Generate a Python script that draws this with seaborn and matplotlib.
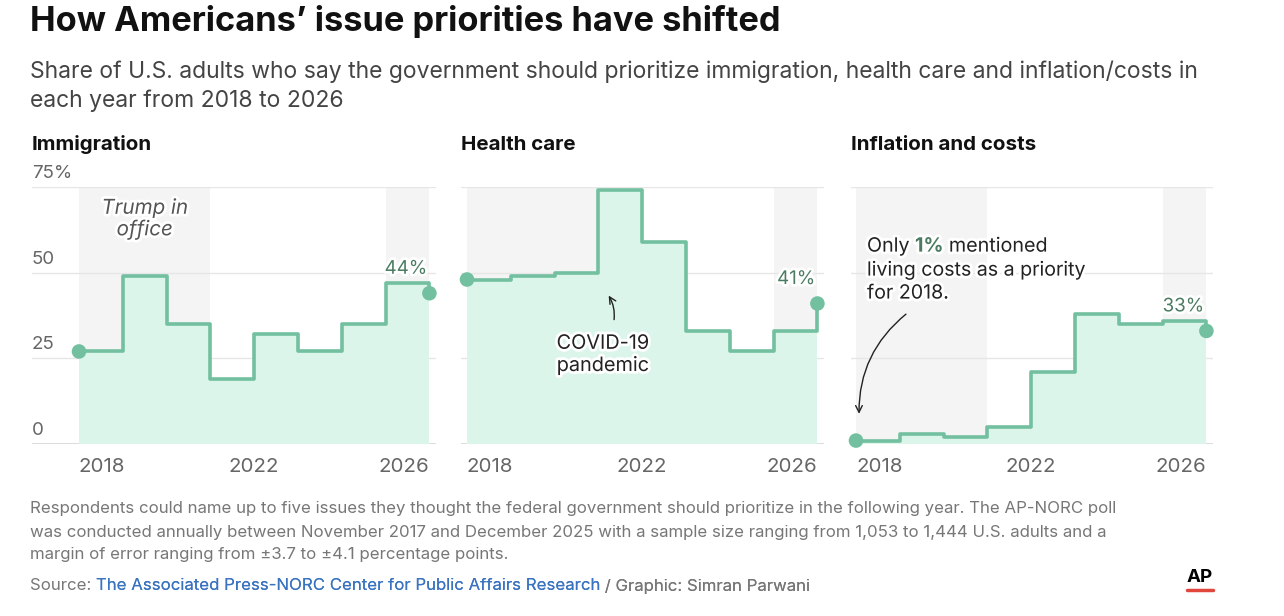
import numpy as np
import pandas as pd
import matplotlib
matplotlib.use("Agg")
import matplotlib.pyplot as plt
import matplotlib.patheffects as pe
import matplotlib.transforms as mtransforms
import seaborn as sns

# data (priority year, % of U.S. adults)
years = [2018, 2019, 2020, 2021, 2022, 2023, 2024, 2025, 2026]
immigration = [27, 49, 35, 19, 32, 27, 35, 47, 44]
health_care = [48, 49, 50, 74, 59, 33, 27, 33, 41]
inflation = [1, 3, 2, 5, 21, 38, 35, 36, 33]
issues = ["Immigration", "Health care", "Inflation and costs"]
trump_terms = [(2018, 2021), (2025, 2026)]
y_ticks = [0, 25, 50, 75]
y_tick_labels = ["0", "25", "50", "75%"]
x_ticks = [2018, 2022, 2026]

df = pd.DataFrame({
    "year": years * 3,
    "share": immigration + health_care + inflation,
    "issue": [i for i in issues for _ in years],
})

sns.set_theme(style="white")
plt.rcParams["font.family"] = ["Inter", "Roboto", "DejaVu Sans"]

LINE = "#72c0a0"
FILL = "#dcf5ea"
SHADE = "#f4f4f4"
GRID = "#e6e6e6"
DARKGREEN = "#4b7b61"
halo = [pe.withStroke(linewidth=4, foreground="white")]

W, H = 1284, 616
fig = plt.figure(figsize=(W / 100, H / 100), dpi=100)
fig.patch.set_facecolor("white")

ppy = 43.8
top_px, base_px = 187, 444
panel_px = [(32, 79), (461, 467), (851, 856)]

axes = []
for k, issue in enumerate(issues):
    left, start = panel_px[k]
    right = start + 8 * ppy + 7
    ax = fig.add_axes([left / W, (H - base_px) / H, (right - left) / W, (base_px - top_px) / H])
    ax.set_xlim(2018 - (start - left) / ppy, 2026 + 7 / ppy)
    ax.set_ylim(0, 75)
    for s in ax.spines.values():
        s.set_visible(False)
    ax.set_facecolor("white")

    sub = df[df["issue"] == issue]
    for a, b in trump_terms:
        ax.axvspan(a, b, ymin=0, ymax=1, color=SHADE, lw=0, zorder=0)
    ax.set_yticks(y_ticks)
    ax.yaxis.grid(True, color=GRID, lw=1)
    ax.set_axisbelow(True)
    ax.tick_params(axis="y", length=0, labelleft=False)
    ax.axhline(0, color="#d9d9d9", lw=1.3, zorder=0.6)

    ax.fill_between(sub["year"], sub["share"], step="post", color=FILL, lw=0, zorder=1)
    sns.lineplot(data=sub, x="year", y="share", drawstyle="steps-post", color=LINE,
                 lw=2.6, ax=ax, zorder=3)
    ends = sub.iloc[[0, -1]]
    sns.scatterplot(data=ends, x="year", y="share", color=LINE, s=110, edgecolor="none",
                    ax=ax, zorder=4, clip_on=False)
    last = sub["share"].iloc[-1]
    ax.text(2025.95, last + 7, f"{last}%", ha="right", va="center", fontsize=13.5,
            color=DARKGREEN, path_effects=halo, zorder=5)

    ax.set_xlabel("")
    ax.set_ylabel("")
    ax.set_xticks(x_ticks)
    ax.set_xticklabels([str(x) for x in x_ticks])
    ax.tick_params(axis="x", length=0, pad=10, labelsize=14.8, labelcolor="#666666")
    labs = ax.get_xticklabels()
    labs[0].set_ha("left")
    labs[-1].set_ha("right")

    ax.text(0, 1 + 42 / 257, issue, transform=ax.transAxes, fontsize=14.8, weight="bold",
            color="#111111", va="center", ha="left")
    axes.append(ax)

# y labels on first panel
ax0 = axes[0]
trans = mtransforms.blended_transform_factory(ax0.transAxes, ax0.transData)
for v, lab in zip(y_ticks, y_tick_labels):
    ax0.annotate(lab, xy=(0, v), xycoords=trans, xytext=(0, 3.5), textcoords="offset points",
                 ha="left", va="bottom", fontsize=13.5, color="#666666")

ax0.text(2019.5, 65.5, "Trump in\noffice", ha="center", va="center", style="italic",
         fontsize=14.8, color="#555555", linespacing=1.25, path_effects=halo, zorder=5)

ax1 = axes[1]
ax1.text(2021.1, 26, "COVID-19\npandemic", ha="center", va="center", fontsize=14.3,
         color="#222222", linespacing=1.3, path_effects=halo, zorder=5)
ax1.annotate("", xy=(2021.2, 44), xytext=(2021.35, 35.5),
             arrowprops=dict(arrowstyle="->", color="#222222", lw=1,
                             connectionstyle="arc3,rad=0.2"), zorder=5)

ax2 = axes[2]
t1 = ax2.text(2018.25, 57.6, "Only ", ha="left", va="center", fontsize=14.2, color="#222222",
              path_effects=halo, zorder=5)
t2 = ax2.annotate("1%", xy=(1, 0), xycoords=t1, ha="left", va="bottom", fontsize=14.2,
                  weight="bold", color=DARKGREEN, path_effects=halo, zorder=5)
ax2.annotate(" mentioned", xy=(1, 0), xycoords=t2, ha="left", va="bottom", fontsize=14.2,
             color="#222222", path_effects=halo, zorder=5)
ax2.text(2018.25, 50.6, "living costs as a priority", ha="left", va="center", fontsize=14.1,
         color="#222222", path_effects=halo, zorder=5)
ax2.text(2018.25, 43.9, "for 2018.", ha="left", va="center", fontsize=14.1,
         color="#222222", path_effects=halo, zorder=5)
ax2.annotate("", xy=(2018.07, 8.0), xytext=(2019.19, 38.4),
             arrowprops=dict(arrowstyle="->", color="#222222", lw=1,
                             connectionstyle="arc3,rad=0.25"), zorder=5)

# titles
fig.text(30 / W, 1 - 22 / H, "How Americans’ issue priorities have shifted", fontsize=24.8,
         weight="bold", color="#111111", va="center", ha="left")
fig.text(30 / W, 1 - 72 / H, "Share of U.S. adults who say the government should prioritize "
         "immigration, health care and inflation/costs in", fontsize=16.5, color="#444444",
         va="center", ha="left")
fig.text(30 / W, 1 - 101 / H, "each year from 2018 to 2026", fontsize=16.5, color="#444444",
         va="center", ha="left")

notes = ["Respondents could name up to five issues they thought the federal government should "
         "prioritize in the following year. The AP-NORC poll",
         "was conducted annually between November 2017 and December 2025 with a sample size "
         "ranging from 1,053 to 1,444 U.S. adults and a",
         "margin of error ranging from ±3.7 to ±4.1 percentage points."]
for yy, line in zip([509, 532, 554], notes):
    fig.text(30 / W, 1 - yy / H, line, fontsize=12.1, color="#777777", va="center", ha="left")

s1 = fig.text(30 / W, 1 - 586 / H, "Source: ", fontsize=12.1, color="#777777", va="center",
              ha="left")
s2 = plt.annotate("The Associated Press-NORC Center for Public Affairs Research", xy=(1, 0),
                  xycoords=s1, ha="left", va="bottom", fontsize=12.1, color="#3a74c0",
                  annotation_clip=False)
fig.add_artist(s2)
s3 = plt.annotate(" / Graphic: Simran Parwani", xy=(1, 0), xycoords=s2, ha="left",
                  va="bottom", fontsize=12.1, color="#777777", annotation_clip=False)
fig.add_artist(s3)

fig.text(1200 / W, 1 - 577 / H, "AP", fontsize=13.5, weight="bold", color="#000000",
         ha="center", va="center")
fig.add_artist(plt.Line2D([1187 / W, 1213 / W], [1 - 590 / H, 1 - 590 / H], color="#e0463c",
                          lw=2.5))

fig.savefig("out.png", dpi=100)
